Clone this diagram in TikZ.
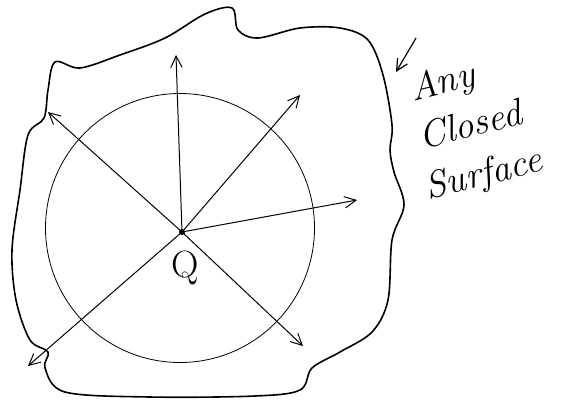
\documentclass[tikz,border=0pt]{standalone}
\usepackage{tikz}
\usetikzlibrary{arrows.meta,positioning,calc}
\tikzset{
  surf/.style  ={draw=black,line width=1.6pt,line join=round},
  sph/.style   ={draw=black,circle,line width=0.8pt,inner sep=0pt},
  ray/.style   ={-{Straight Barb[length=4mm,width=4mm]},draw=black,line width=1pt},
  chg/.style   ={circle,fill=black,inner sep=0pt,minimum size=6pt},
  hand/.style  ={font=\fontsize{38}{40}\selectfont\itshape,inner sep=0pt,rotate=14},
}
\begin{document}
\begin{tikzpicture}[x=1pt,y=-1pt]
\useasboundingbox (0,0) rectangle (569,399);

% ===== closed surface =====================================================
\draw[surf] plot[smooth cycle,tension=0.55] coordinates {
  (55,62) (80,68) (120,55) (165,38) (205,14) (232,8) (238,30) (258,38)
  (300,28) (340,28) (368,40) (383,75) (392,125) (390,150) (394,172) (404,205)
  (392,240) (388,300) (372,332) (340,352) (312,368) (300,390) (255,396)
  (150,397) (65,392) (45,368) (48,352) (30,340) (16,300) (12,250)
  (20,190) (28,135) (44,118) (48,90)};

% ===== sphere and charge ===================================================
\node[sph,minimum size=269pt] (ball) at (180,228) {};
\node[chg] (q) at (182,232) {};
\node[font=\fontsize{38}{40}\selectfont] (qlbl) at (185,268) {Q};

% ===== field lines =========================================================
\coordinate (eN)  at (176,55);
\coordinate (eNW) at (48,112);
\coordinate (eNE) at (300,95);
\coordinate (eE)  at (357,200);
\coordinate (eSE) at (303,346);
\coordinate (eSW) at (28,366);
\foreach \e in {eN,eNW,eNE,eE,eSE,eSW}{\draw[ray] (q.center) -- (\e);}

% ===== label ===============================================================
\node[hand] (any)    at (443,84)  {Any};
\node[hand] (closed) at (470,124) {Closed};
\node[hand] (surfc)  at (484,176) {Surface};
\coordinate (onsurf) at (396,72);
\draw[ray,line width=1.2pt] (416,38) -- (onsurf);
\end{tikzpicture}
\end{document}
